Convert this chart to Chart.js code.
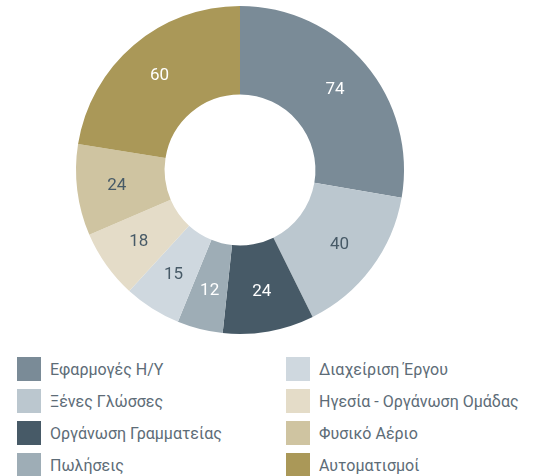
<!DOCTYPE html>
<html>
<head>
<meta charset="utf-8">
<script src="https://cdn.jsdelivr.net/npm/chart.js@4/dist/chart.umd.min.js"></script>
<style>
  html, body { margin: 0; padding: 0; background: #ffffff; }
  #wrap { position: relative; width: 540px; height: 476px; overflow: hidden; }
  #chartBox { position: absolute; left: 0; top: 0; width: 480px; height: 340px; }
  #legend { position: absolute; left: 17px; top: 357px; width: 523px; }
  .item { position: absolute; height: 24px; display: flex; align-items: center;
          font-family: Roboto, "DejaVu Sans", sans-serif; font-size: 16px; color: #5d6c77; white-space: nowrap; }
  .sw { width: 24px; height: 24px; margin-right: 9px; flex: none; }
</style>
</head>
<body>
<div id="wrap">
  <div id="chartBox"><canvas id="c"></canvas></div>
  <div id="legend"></div>
</div>
<script>
// Course categories and number of trainees per category
const categories = [
  "Εφαρμογές Η/Υ",
  "Ξένες Γλώσσες",
  "Οργάνωση Γραμματείας",
  "Πωλήσεις",
  "Διαχείριση Έργου",
  "Ηγεσία - Οργάνωση Ομάδας",
  "Φυσικό Αέριο",
  "Αυτοματισμοί"
];
const values = [74, 40, 24, 12, 15, 18, 24, 60];
const sliceColors = ["#7a8b97", "#bbc7cf", "#475a67", "#9eadb6", "#cfd8df", "#e4dcc8", "#cfc4a1", "#aa9858"];
const labelColors = ["#ffffff", "#475a67", "#ffffff", "#ffffff", "#475a67", "#475a67", "#475a67", "#ffffff"];

// Writes each slice's value inside its ring segment
const sliceValues = {
  id: "sliceValues",
  afterDatasetsDraw(chart) {
    const ctx = chart.ctx;
    const meta = chart.getDatasetMeta(0);
    ctx.save();
    ctx.font = "17px Roboto, 'DejaVu Sans', sans-serif";
    ctx.textAlign = "center";
    ctx.textBaseline = "middle";
    meta.data.forEach((arc, i) => {
      const p = arc.getProps(["x", "y", "startAngle", "endAngle", "innerRadius", "outerRadius"], true);
      const mid = (p.startAngle + p.endAngle) / 2;
      const r = p.innerRadius + (p.outerRadius - p.innerRadius) * 0.55;
      ctx.fillStyle = labelColors[i];
      ctx.fillText(String(values[i]), p.x + Math.cos(mid) * r, p.y + Math.sin(mid) * r);
    });
    ctx.restore();
  }
};

new Chart(document.getElementById("c"), {
  type: "doughnut",
  data: {
    labels: categories,
    datasets: [{
      data: values,
      backgroundColor: sliceColors,
      borderWidth: 0
    }]
  },
  options: {
    responsive: true,
    maintainAspectRatio: false,
    animation: false,
    cutout: "46%",
    layout: { padding: 6 },
    plugins: {
      legend: { display: false },
      tooltip: { enabled: false }
    }
  },
  plugins: [sliceValues]
});

// Two-column legend: first four categories on the left, the rest on the right
const legend = document.getElementById("legend");
categories.forEach((name, i) => {
  const col = Math.floor(i / 4);
  const row = i % 4;
  const item = document.createElement("div");
  item.className = "item";
  item.style.left = (col * 269) + "px";
  item.style.top = (row * 32) + "px";
  const sw = document.createElement("span");
  sw.className = "sw";
  sw.style.background = sliceColors[i];
  const txt = document.createElement("span");
  txt.textContent = name;
  item.appendChild(sw);
  item.appendChild(txt);
  legend.appendChild(item);
});
</script>
</body>
</html>
